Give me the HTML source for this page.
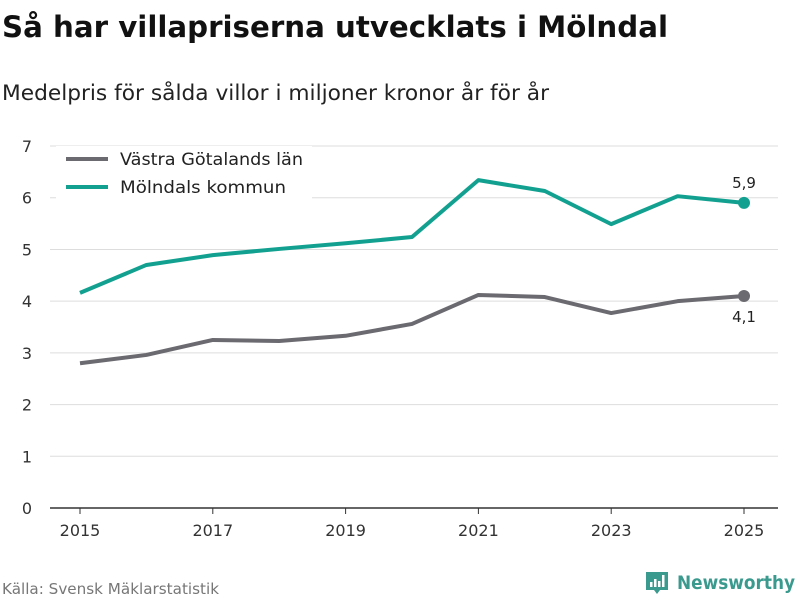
<!DOCTYPE html>
<html><head><meta charset="utf-8"><style>
body{margin:0;background:#fff;font-family:"DejaVu Sans","Liberation Sans",sans-serif;}
svg text{font-family:"DejaVu Sans","Liberation Sans",sans-serif;}
</style></head><body>
<svg width="800" height="600" xmlns="http://www.w3.org/2000/svg" id="chart">
<text x="2" y="37" font-size="29" font-weight="bold" fill="#111" textLength="666" lengthAdjust="spacingAndGlyphs">Så har villapriserna utvecklats i Mölndal</text>
<text x="2" y="100" font-size="21" fill="#222" textLength="547" lengthAdjust="spacingAndGlyphs">Medelpris för sålda villor i miljoner kronor år för år</text>
<g id="grid"></g>
<g id="lines"></g>
<g>
<rect x="56" y="146" width="256" height="56" fill="#fff"/>
<line x1="66" y1="159" x2="108" y2="159" stroke="#6b6a70" stroke-width="4"/>
<text x="120" y="165" font-size="17" fill="#222" textLength="183" lengthAdjust="spacingAndGlyphs">Västra Götalands län</text>
<line x1="66" y1="187" x2="108" y2="187" stroke="#12a190" stroke-width="4"/>
<text x="120" y="193" font-size="17" fill="#222" textLength="166" lengthAdjust="spacingAndGlyphs">Mölndals kommun</text>
</g>
<text x="2" y="594" font-size="15" fill="#777" textLength="217" lengthAdjust="spacingAndGlyphs">Källa: Svensk Mäklarstatistik</text>
<g>
<path d="M646 572h22v18h-8l-3 4-3-4h-8z" fill="#3a9a8e"/>
<rect x="650" y="582" width="2.5" height="5" fill="#fff"/><rect x="654" y="579" width="2.5" height="8" fill="#fff"/><rect x="658" y="581" width="2.5" height="6" fill="#fff"/><rect x="662" y="575" width="2.5" height="12" fill="#fff"/>
<text x="677" y="589" font-size="19" font-weight="bold" fill="#3a9a8e" textLength="118" lengthAdjust="spacingAndGlyphs">Newsworthy</text>
</g>
</svg>
<script>
const years=[2015,2016,2017,2018,2019,2020,2021,2022,2023,2024,2025];
const vastra=[2.80,2.96,3.25,3.23,3.33,3.56,4.12,4.08,3.77,4.00,4.10];
const molndal=[4.16,4.70,4.89,5.01,5.12,5.24,6.34,6.13,5.49,6.03,5.90];
const yTicks=[0,1,2,3,4,5,6,7];
const xTicks=[2015,2017,2019,2021,2023,2025];
const NS="http://www.w3.org/2000/svg";
const x=v=>80+(v-2015)*66.4;
const y=v=>508-v*51.71;
function mk(t,a,p){const e=document.createElementNS(NS,t);for(const k in a)e.setAttribute(k,a[k]);p.appendChild(e);return e;}
const g=document.getElementById('grid'),L=document.getElementById('lines');
yTicks.forEach(t=>{
 const l=mk('line',{x1:50,x2:778,y1:y(t),y2:y(t),stroke:t===0?'#333':'#ddd','stroke-width':t===0?1.5:1},g);
 
 
 const tx=mk('text',{x:32,y:y(t)+6,'font-size':16,fill:'#333','text-anchor':'end'},g);tx.textContent=t;
 
 
});
xTicks.forEach(t=>{
 const l=mk('line',{x1:x(t),x2:x(t),y1:508,y2:514,stroke:'#333'},g);
 
 
 const tx=mk('text',{x:x(t),y:536,'font-size':16,fill:'#333','text-anchor':'middle'},g);tx.textContent=t;
 
 
});
function series(d,c,name,dy){
 const p=mk('polyline',{points:d.map((v,i)=>x(years[i])+','+y(v)).join(' '),fill:'none',stroke:c,'stroke-width':4,'stroke-linejoin':'round'},L);
 
 
 const n=d.length-1;
 const c1=mk('circle',{cx:x(years[n]),cy:y(d[n]),r:6,fill:c},L);
 
 
 const t=mk('text',{x:x(years[n]),y:y(d[n])+dy,'font-size':15,fill:'#222','text-anchor':'middle'},L);
 t.textContent=d[n].toFixed(1).replace('.',',');
 
 
}
series(vastra,'#6b6a70','vastra-gotaland',26);
series(molndal,'#12a190','molndal',-15);
</script>
</body></html>
